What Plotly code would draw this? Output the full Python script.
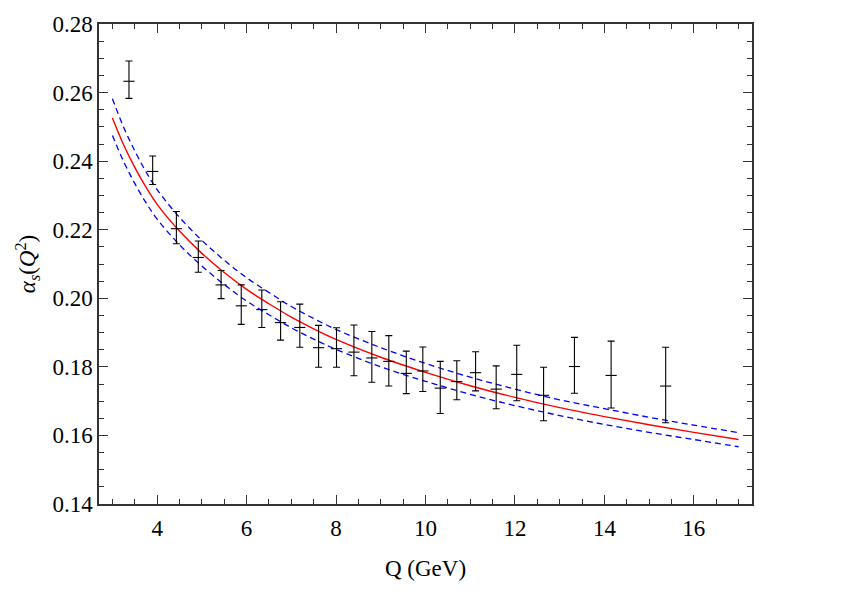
import plotly.graph_objects as go

# Data points (Q in GeV, alpha_s value, upper and lower ends of error bars)
q_data = [3.37, 3.90, 4.43, 4.92, 5.43, 5.88, 6.34, 6.76, 7.19, 7.61, 8.01, 8.40, 8.80,
          9.18, 9.57, 9.94, 10.33, 10.70, 11.12, 11.58, 12.04, 12.64, 13.33, 14.15, 15.37]
alpha_data = [0.2633, 0.2370, 0.2203, 0.2119, 0.2039, 0.1978, 0.1967, 0.1929, 0.1915, 0.1856,
              0.1853, 0.1843, 0.1826, 0.1816, 0.1781, 0.1788, 0.1738, 0.1757, 0.1783, 0.1735,
              0.1778, 0.1717, 0.1801, 0.1775, 0.1744]
alpha_top = [0.2692, 0.2415, 0.2253, 0.2167, 0.2081, 0.2039, 0.2024, 0.1990, 0.1983, 0.1921,
             0.1914, 0.1922, 0.1903, 0.1891, 0.1846, 0.1858, 0.1816, 0.1818, 0.1844, 0.1803,
             0.1863, 0.1799, 0.1886, 0.1875, 0.1857]
alpha_bottom = [0.2583, 0.2332, 0.2159, 0.2076, 0.1999, 0.1924, 0.1915, 0.1878, 0.1857, 0.1799,
                0.1799, 0.1774, 0.1755, 0.1744, 0.1722, 0.1728, 0.1664, 0.1704, 0.1730, 0.1678,
                0.1701, 0.1643, 0.1723, 0.1680, 0.1637]

# Curves
q_curve = [3.0, 3.25, 3.5, 3.75, 4.0, 4.5, 5.0, 5.5, 6.0, 6.5, 7.0, 7.5, 8.0,
           9.0, 10.0, 11.0, 12.0, 13.0, 14.0, 15.0, 16.0, 17.0]
alpha_central = [0.2526, 0.2448, 0.2382, 0.2324, 0.2274, 0.2196, 0.2131, 0.2075, 0.2026, 0.1984,
                 0.1945, 0.1911, 0.1880, 0.1828, 0.1784, 0.1745, 0.1711, 0.1681, 0.1655, 0.1631,
                 0.1609, 0.1588]
alpha_upper = [0.2582, 0.2499, 0.2430, 0.2369, 0.2317, 0.2236, 0.2169, 0.2111, 0.2060, 0.2017,
               0.1976, 0.1941, 0.1909, 0.1856, 0.1810, 0.1770, 0.1735, 0.1704, 0.1678, 0.1653,
               0.1630, 0.1608]
alpha_lower = [0.2475, 0.2399, 0.2335, 0.2279, 0.2231, 0.2156, 0.2094, 0.2040, 0.1992, 0.1952,
               0.1914, 0.1881, 0.1851, 0.1800, 0.1758, 0.1720, 0.1687, 0.1658, 0.1632, 0.1609,
               0.1588, 0.1567]

x_ticks = [4, 6, 8, 10, 12, 14, 16]
y_ticks = [0.14, 0.16, 0.18, 0.20, 0.22, 0.24, 0.26, 0.28]

err_plus = [t - c for t, c in zip(alpha_top, alpha_data)]
err_minus = [c - b for c, b in zip(alpha_data, alpha_bottom)]

FONT = "Liberation Serif, Times New Roman, serif"

fig = go.Figure()
for ys in (alpha_upper, alpha_lower):
    fig.add_trace(go.Scatter(x=q_curve, y=ys, mode="lines",
                             line=dict(color="#0000ff", width=1.3, dash="6px,4px", shape="spline"),
                             showlegend=False, hoverinfo="skip"))
fig.add_trace(go.Scatter(x=q_curve, y=alpha_central, mode="lines",
                         line=dict(color="#ff0000", width=1.4, shape="spline"),
                         showlegend=False))
fig.add_trace(go.Scatter(x=q_data, y=alpha_data, mode="markers",
                         marker=dict(symbol="line-ew", size=8, line=dict(color="black", width=1.1)),
                         error_y=dict(type="data", symmetric=False, array=err_plus,
                                      arrayminus=err_minus, color="black", thickness=1.1, width=3.5),
                         showlegend=False))

axis_common = dict(showline=True, linecolor="#333333", linewidth=1.5, mirror="ticks",
                   ticks="inside", ticklen=9, tickwidth=1.2, tickcolor="#333333",
                   showgrid=False, zeroline=False,
                   tickfont=dict(family=FONT, size=23, color="black"))

fig.update_xaxes(range=[2.7, 17.3], tickvals=x_ticks, ticktext=[str(v) for v in x_ticks],
                 ticklabelstandoff=3,
                 minor=dict(ticks="inside", dtick=0.5, tick0=0, ticklen=5, tickwidth=1.1,
                            tickcolor="#333333", showgrid=False),
                 title=dict(text="Q (GeV)", font=dict(family=FONT, size=23, color="black"), standoff=20),
                 **axis_common)
fig.update_yaxes(range=[0.14, 0.28], tickvals=y_ticks, ticktext=[f"{v:.2f}" for v in y_ticks],
                 minor=dict(ticks="inside", dtick=0.005, tick0=0, ticklen=5, tickwidth=1.1,
                            tickcolor="#333333", showgrid=False),
                 title=dict(text="<i>α</i><sub><i>s</i></sub>(<i>Q</i><sup>2</sup>)",
                            font=dict(family=FONT, size=23, color="black"), standoff=10),
                 **axis_common)

fig.update_layout(width=846, height=613, plot_bgcolor="white", paper_bgcolor="white",
                  margin=dict(l=99, r=94, t=15, b=109), showlegend=False)

fig.write_html("out.html")
